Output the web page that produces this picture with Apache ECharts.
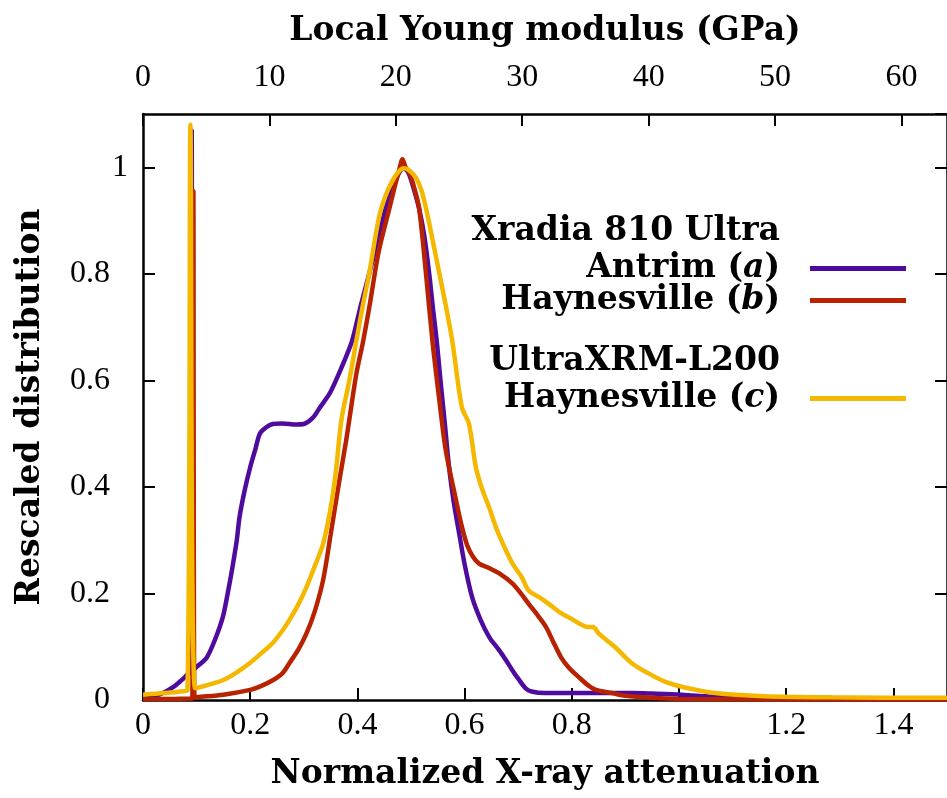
<!DOCTYPE html>
<html>
<head>
<meta charset="utf-8">
<script src="https://cdn.jsdelivr.net/npm/echarts@6/dist/echarts.min.js"></script>
<style>
html,body{margin:0;padding:0;background:#fff;}
#chart{width:947px;height:798px;}
</style>
</head>
<body>
<div id="chart"></div>
<script>
// ---- Data ----
const xTitle = 'Normalized X-ray attenuation';
const x2Title = 'Local Young modulus (GPa)';
const yTitle = 'Rescaled distribution';

const seriesNames = ['Antrim (a)', 'Haynesville (b)', 'Haynesville (c)'];
const groupHeaders = ['Xradia 810 Ultra', 'UltraXRM-L200'];

// Antrim (a) - Xradia 810 Ultra
const xAntrim = [0, 0.03, 0.056, 0.075, 0.087, 0.089, 0.091, 0.093, 0.1, 0.119, 0.135, 0.149, 0.158, 0.167, 0.175, 0.18, 0.19, 0.2, 0.21, 0.218, 0.23, 0.242, 0.26, 0.286, 0.3, 0.317, 0.33, 0.348, 0.36, 0.375, 0.39, 0.405, 0.422, 0.437, 0.453, 0.465, 0.478, 0.487, 0.495, 0.505, 0.515, 0.525, 0.534, 0.541, 0.548, 0.555, 0.563, 0.571, 0.58, 0.59, 0.6, 0.614, 0.63, 0.646, 0.664, 0.677, 0.689, 0.7, 0.714, 0.725, 0.75, 0.8, 0.85, 0.912, 0.95, 1.005, 1.05, 1.1, 1.2, 1.3, 1.5];
const yAntrim = [0.005, 0.01, 0.024, 0.04, 0.05, 0.05, 1.07, 0.055, 0.062, 0.08, 0.115, 0.156, 0.2, 0.25, 0.3, 0.343, 0.395, 0.437, 0.472, 0.5, 0.512, 0.518, 0.519, 0.517, 0.518, 0.53, 0.549, 0.575, 0.6, 0.635, 0.674, 0.735, 0.8, 0.86, 0.924, 0.96, 0.99, 0.998, 0.99, 0.96, 0.923, 0.87, 0.8, 0.735, 0.674, 0.6, 0.52, 0.437, 0.37, 0.312, 0.255, 0.193, 0.15, 0.118, 0.094, 0.075, 0.056, 0.04, 0.022, 0.016, 0.013, 0.013, 0.013, 0.013, 0.012, 0.01, 0.007, 0.004, 0.003, 0.002, 0.002];

// Haynesville (b) - Xradia 810 Ultra
const xHayB = [0, 0.05, 0.09, 0.092, 0.094, 0.096, 0.1, 0.15, 0.2, 0.22, 0.242, 0.26, 0.273, 0.29, 0.305, 0.32, 0.336, 0.35, 0.366, 0.379, 0.398, 0.41, 0.422, 0.44, 0.46, 0.47, 0.478, 0.484, 0.49, 0.497, 0.505, 0.515, 0.528, 0.54, 0.553, 0.565, 0.584, 0.595, 0.605, 0.615, 0.627, 0.645, 0.664, 0.689, 0.705, 0.72, 0.737, 0.752, 0.765, 0.78, 0.795, 0.813, 0.83, 0.845, 0.875, 0.9, 0.95, 1.0, 1.2, 1.5];
const yHayB = [0.002, 0.002, 0.003, 0.003, 0.955, 0.004, 0.005, 0.01, 0.019, 0.026, 0.037, 0.05, 0.069, 0.095, 0.125, 0.165, 0.225, 0.31, 0.41, 0.487, 0.612, 0.67, 0.736, 0.843, 0.924, 0.965, 0.995, 1.015, 1.0, 0.99, 0.965, 0.924, 0.8, 0.674, 0.562, 0.468, 0.375, 0.325, 0.29, 0.27, 0.256, 0.248, 0.238, 0.219, 0.2, 0.18, 0.158, 0.137, 0.11, 0.08, 0.06, 0.043, 0.028, 0.019, 0.013, 0.008, 0.004, 0.002, 0.001, 0.001];

// Haynesville (c) - UltraXRM-L200
const xHayC = [0, 0.04, 0.07, 0.083, 0.0885, 0.097, 0.12, 0.149, 0.175, 0.2, 0.22, 0.242, 0.26, 0.273, 0.29, 0.305, 0.32, 0.336, 0.35, 0.36, 0.367, 0.372, 0.385, 0.398, 0.41, 0.422, 0.44, 0.452, 0.465, 0.478, 0.487, 0.498, 0.51, 0.52, 0.528, 0.54, 0.553, 0.565, 0.577, 0.595, 0.608, 0.621, 0.633, 0.646, 0.66, 0.677, 0.69, 0.707, 0.72, 0.744, 0.76, 0.78, 0.8, 0.83, 0.84, 0.85, 0.88, 0.912, 0.943, 0.975, 1.005, 1.067, 1.16, 1.284, 1.5];
const yHayC = [0.01, 0.013, 0.016, 0.019, 1.08, 0.022, 0.028, 0.037, 0.052, 0.07, 0.087, 0.107, 0.13, 0.15, 0.18, 0.212, 0.25, 0.293, 0.36, 0.43, 0.5, 0.537, 0.6, 0.674, 0.74, 0.8, 0.905, 0.945, 0.974, 0.993, 0.998, 0.993, 0.979, 0.955, 0.923, 0.865, 0.8, 0.74, 0.674, 0.549, 0.519, 0.437, 0.395, 0.361, 0.32, 0.281, 0.255, 0.23, 0.205, 0.19, 0.178, 0.163, 0.152, 0.137, 0.137, 0.125, 0.1, 0.069, 0.05, 0.034, 0.025, 0.013, 0.007, 0.005, 0.004];

const colors = ['#4f0a9e', '#b82200', '#f5b800'];

// ---- Chart ----
const zip = (xs, ys) => xs.map((x, i) => [x, ys[i]]);
const serif = '"DejaVu Serif", "Liberation Serif", serif';
const tickFont = '"Liberation Serif", "DejaVu Serif", serif';
const titleSize = 33;
const tickSize = 32;

const chart = echarts.init(document.getElementById('chart'), null, {renderer: 'canvas'});

const legendText = {
  fontFamily: serif, fontWeight: 'bold', fontSize: titleSize, color: '#000',
  padding: [0, 25, 0, 0],
  rich: { i: { fontFamily: serif, fontWeight: 'bold', fontStyle: 'italic', fontSize: titleSize, color: '#000' } }
};
const legendFmt = name => name.replace(/\((\w)\)/, '({i|$1})');
function mkLegend(name, top) {
  return {
    data: [name], right: 41, top: top, orient: 'vertical', align: 'right',
    padding: 0, itemWidth: 96, itemHeight: 5, icon: 'rect',
    textStyle: legendText, formatter: legendFmt, selectedMode: false
  };
}
const titleStyle = { fontFamily: serif, fontWeight: 'bold', fontSize: titleSize, color: '#000' };
const axisLineStyle = { show: true, onZero: false, lineStyle: { color: '#000', width: 2.5 } };
const tickStyle = { show: true, inside: true, length: 12, lineStyle: { color: '#000', width: 2 } };

const option = {
  backgroundColor: '#fff',
  animation: false,
  grid: { left: 143, right: -4, top: 114, bottom: 98, containLabel: false },
  legend: [
    mkLegend(seriesNames[0], 252),
    mkLegend(seriesNames[1], 284),
    mkLegend(seriesNames[2], 382)
  ],
  graphic: [
    { type: 'text', right: 167, top: 215, style: { text: groupHeaders[0], font: 'bold ' + titleSize + 'px ' + serif, fill: '#000', textAlign: 'right' } },
    { type: 'text', right: 167, top: 345, style: { text: groupHeaders[1], font: 'bold ' + titleSize + 'px ' + serif, fill: '#000', textAlign: 'right' } }
  ],
  xAxis: [
    {
      type: 'value', position: 'bottom', min: 0, max: 1.5, interval: 0.2,
      name: xTitle, nameLocation: 'middle', nameGap: 58, nameTextStyle: titleStyle,
      axisLine: axisLineStyle, axisTick: tickStyle,
      axisLabel: { fontFamily: tickFont, fontSize: tickSize, color: '#000', margin: 10, showMaxLabel: false },
      splitLine: { show: false }
    },
    {
      type: 'value', position: 'top', min: 0, max: 63.6, interval: 10,
      name: x2Title, nameLocation: 'middle', nameGap: 66, nameTextStyle: titleStyle,
      axisLine: axisLineStyle, axisTick: tickStyle,
      axisLabel: { fontFamily: tickFont, fontSize: tickSize, color: '#000', margin: 20, showMaxLabel: false },
      splitLine: { show: false }
    }
  ],
  yAxis: [
    {
      type: 'value', position: 'left', min: 0, max: 1.1, interval: 0.2,
      name: yTitle, nameLocation: 'middle', nameGap: 96, nameRotate: 90, nameTextStyle: titleStyle,
      axisLine: axisLineStyle, axisTick: tickStyle,
      axisLabel: {
        fontFamily: tickFont, fontSize: tickSize, color: '#000', margin: 15, showMaxLabel: false,
        formatter: v => v === 1 ? '1' : '{d|' + v + '}',
        rich: { d: { fontFamily: tickFont, fontSize: tickSize, color: '#000', padding: [0, 18, 0, 0] } }
      },
      splitLine: { show: false }
    },
    {
      type: 'value', position: 'right', min: 0, max: 1.1, interval: 0.2,
      axisLine: axisLineStyle, axisTick: tickStyle,
      axisLabel: { show: false },
      splitLine: { show: false }
    }
  ],
  series: [
    { name: seriesNames[0], type: 'line', data: zip(xAntrim, yAntrim), xAxisIndex: 0, yAxisIndex: 0, smooth: 0.3,
      showSymbol: false, symbol: 'none', lineStyle: { color: colors[0], width: 4.5 }, itemStyle: { color: colors[0] }, z: 2 },
    { name: seriesNames[1], type: 'line', data: zip(xHayB, yHayB), xAxisIndex: 0, yAxisIndex: 0, smooth: 0.3,
      showSymbol: false, symbol: 'none', lineStyle: { color: colors[1], width: 4.5 }, itemStyle: { color: colors[1] }, z: 3 },
    { name: seriesNames[2], type: 'line', data: zip(xHayC, yHayC), xAxisIndex: 0, yAxisIndex: 0, smooth: 0.3,
      showSymbol: false, symbol: 'none', lineStyle: { color: colors[2], width: 4.5 }, itemStyle: { color: colors[2] }, z: 4 }
  ]
};
chart.setOption(option);
</script>
</body>
</html>
